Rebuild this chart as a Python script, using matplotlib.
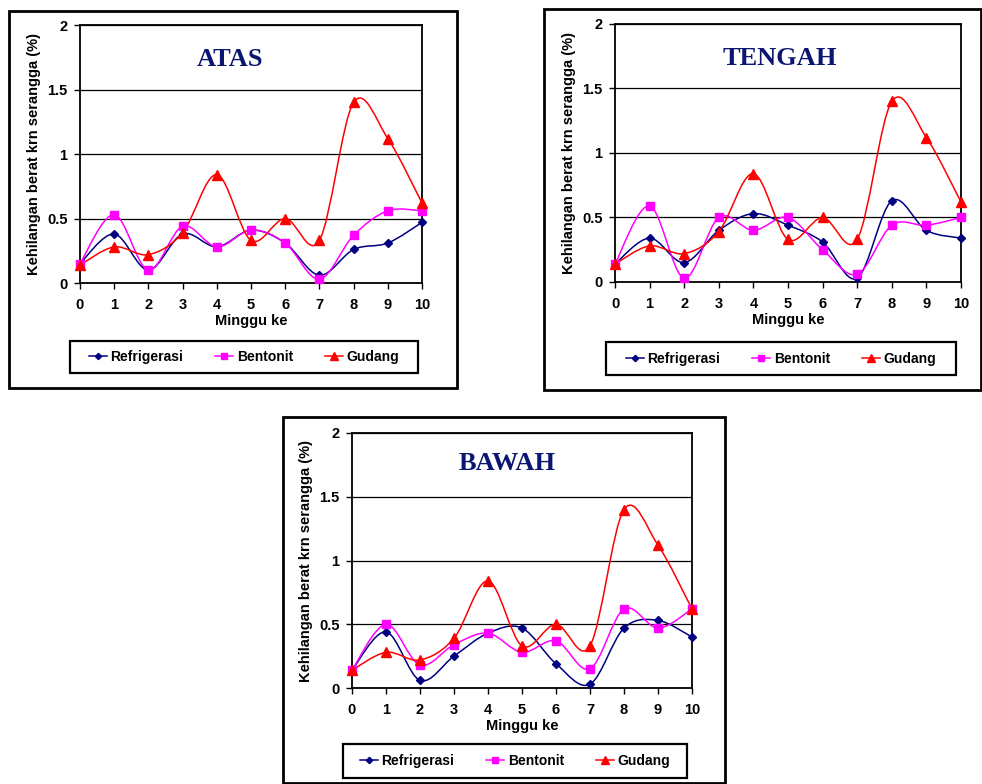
import numpy as np
import matplotlib
matplotlib.use("Agg")
import matplotlib.pyplot as plt
from matplotlib.path import Path
from matplotlib.patches import PathPatch, Rectangle

plt.rcParams['font.family'] = ['Liberation Sans', 'DejaVu Sans']

weeks = list(range(11))
week_labels = [str(w) for w in weeks]
y_ticks = [0, 0.5, 1, 1.5, 2]
y_labels = ['0', '0.5', '1', '1.5', '2']

series_names = ['Refrigerasi', 'Bentonit', 'Gudang']

# kehilangan berat (%) per lokasi
atas_refrigerasi = [0.15, 0.38, 0.10, 0.38, 0.28, 0.41, 0.31, 0.06, 0.26, 0.31, 0.47]
atas_bentonit = [0.15, 0.53, 0.10, 0.44, 0.28, 0.41, 0.31, 0.03, 0.37, 0.56, 0.56]
tengah_refrigerasi = [0.14, 0.34, 0.15, 0.40, 0.53, 0.44, 0.31, 0.03, 0.63, 0.40, 0.34]
tengah_bentonit = [0.14, 0.59, 0.03, 0.50, 0.40, 0.50, 0.25, 0.06, 0.44, 0.44, 0.50]
bawah_refrigerasi = [0.14, 0.44, 0.06, 0.25, 0.43, 0.47, 0.19, 0.03, 0.47, 0.53, 0.40]
bawah_bentonit = [0.14, 0.50, 0.18, 0.34, 0.43, 0.28, 0.37, 0.15, 0.62, 0.47, 0.62]
gudang = [0.14, 0.28, 0.22, 0.39, 0.84, 0.33, 0.50, 0.33, 1.40, 1.12, 0.62]

panels = [
    ('ATAS', [atas_refrigerasi, atas_bentonit, gudang]),
    ('TENGAH', [tengah_refrigerasi, tengah_bentonit, gudang]),
    ('BAWAH', [bawah_refrigerasi, bawah_bentonit, gudang]),
]

colors = ['#000080', '#ff00ff', '#ff0000']
markers = ['D', 's', '^']
msizes = [4, 5.5, 6.5]

W, H = 982, 784
# pixel boxes (left, top, right, bottom)
frames = [(9, 11, 457, 388), (544, 9, 981, 390), (283, 417, 725, 783)]
ax_boxes = [(80, 25, 422, 283), (615, 24, 961, 282), (352, 433, 692, 688)]
leg_boxes = [(70, 341, 418, 373), (606, 342, 956, 375), (343, 744, 687, 778)]
title_xy = [(4.4, 1.73), (4.75, 1.73), (4.55, 1.76)]


def fig_rect(box):
    l, t, r, b = box
    return [l / W, 1 - b / H, (r - l) / W, (b - t) / H]


def smooth_path(x, y):
    # bezier through every point, excel-style smoothing
    pts = np.column_stack([x, y]).astype(float)
    n = len(pts)
    verts = [pts[0]]
    codes = [Path.MOVETO]
    for i in range(n - 1):
        p0 = pts[max(i - 1, 0)]
        p1 = pts[i]
        p2 = pts[i + 1]
        p3 = pts[min(i + 2, n - 1)]
        c1 = p1 + (p2 - p0) / 6.0
        c2 = p2 - (p3 - p1) / 6.0
        verts += [c1, c2, p2]
        codes += [Path.CURVE4] * 3
    return Path(verts, codes)


fig = plt.figure(figsize=(W / 100, H / 100), dpi=100)

for k, (name, data) in enumerate(panels):
    f = fig_rect(frames[k])
    fig.add_artist(Rectangle((f[0], f[1]), f[2], f[3], transform=fig.transFigure,
                             fill=False, lw=2, ec='black'))

    ax = fig.add_axes(fig_rect(ax_boxes[k]))
    handles = []
    for vals, c, m, ms, lab in zip(data, colors, markers, msizes, series_names):
        ax.add_patch(PathPatch(smooth_path(weeks, vals), fc='none', ec=c, lw=1.1, zorder=3))
        ax.plot(weeks, vals, ls='none', marker=m, ms=ms, color=c, clip_on=False, zorder=4)
        h, = ax.plot([], [], color=c, lw=1.1, marker=m, ms=ms * 0.8)
        h.set_label(lab)
        handles.append(h)

    ax.set_xlim(0, 10)
    ax.set_ylim(0, 2)
    ax.set_xticks(weeks)
    ax.set_xticklabels(week_labels, fontweight='bold', fontsize=10.5)
    ax.set_yticks(y_ticks)
    ax.set_yticklabels(y_labels, fontweight='bold', fontsize=10.5)
    ax.tick_params(direction='out', length=4, width=1, color='black')
    ax.tick_params(axis='x', pad=6.5)
    ax.tick_params(axis='y', pad=5)
    ax.yaxis.grid(True, color='black', lw=0.9)
    ax.set_axisbelow(True)
    for s in ax.spines.values():
        s.set_linewidth(1.3)
        s.set_color('black')
    ax.set_xlabel('Minggu ke', fontweight='bold', fontsize=10.5, labelpad=2)
    ax.set_ylabel('Kehilangan berat krn serangga (%)', fontweight='bold', fontsize=10.5, labelpad=4)

    tx, ty = title_xy[k]
    ax.text(tx, ty, name, ha='center', va='center', fontsize=19, fontweight='bold',
            family=['Liberation Serif', 'DejaVu Serif'], color='#0a1672')

    # legend box drawn separately, entries centred inside it
    lb = fig_rect(leg_boxes[k])
    fig.add_artist(Rectangle((lb[0], lb[1]), lb[2], lb[3], transform=fig.transFigure,
                             fill=False, lw=1.6, ec='black'))
    ax.legend(handles=handles, loc='center', ncol=3,
              bbox_to_anchor=(lb[0] + lb[2] / 2, lb[1] + lb[3] / 2), bbox_transform=fig.transFigure,
              prop={'weight': 'bold', 'size': 10}, frameon=False,
              handlelength=1.3, handletextpad=0.25, columnspacing=2.3, borderaxespad=0, borderpad=0)

fig.savefig('out.png', dpi=100)
